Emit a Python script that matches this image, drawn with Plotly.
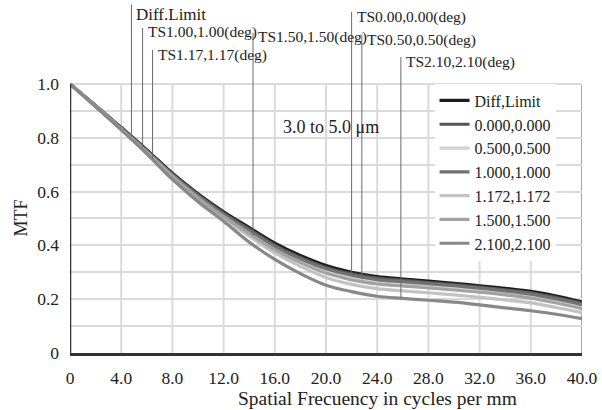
import numpy as np
import plotly.graph_objects as go

freq = [0, 2, 4, 6, 8, 10, 12, 14, 16, 18, 20, 22, 24, 26, 28, 30, 32, 34, 36, 38, 40]

diff_limit = [1.000, 0.920, 0.838, 0.755, 0.668, 0.592, 0.525, 0.466, 0.408, 0.362, 0.325, 0.300, 0.284, 0.275, 0.267, 0.259, 0.250, 0.240, 0.229, 0.212, 0.190]
f_000 = [1.000, 0.919, 0.836, 0.752, 0.665, 0.588, 0.520, 0.460, 0.401, 0.355, 0.318, 0.294, 0.278, 0.270, 0.262, 0.254, 0.245, 0.235, 0.224, 0.206, 0.185]
f_050 = [1.000, 0.918, 0.833, 0.748, 0.660, 0.581, 0.511, 0.450, 0.390, 0.343, 0.305, 0.280, 0.265, 0.257, 0.250, 0.242, 0.234, 0.224, 0.212, 0.194, 0.173]
f_100 = [1.000, 0.918, 0.834, 0.750, 0.662, 0.584, 0.515, 0.455, 0.396, 0.350, 0.313, 0.289, 0.273, 0.265, 0.258, 0.250, 0.241, 0.231, 0.219, 0.201, 0.180]
f_1172 = [1.000, 0.916, 0.831, 0.744, 0.653, 0.572, 0.500, 0.434, 0.372, 0.322, 0.281, 0.255, 0.239, 0.231, 0.224, 0.216, 0.207, 0.197, 0.186, 0.169, 0.150]
f_150 = [1.000, 0.917, 0.832, 0.746, 0.657, 0.577, 0.507, 0.444, 0.384, 0.336, 0.297, 0.272, 0.257, 0.249, 0.242, 0.234, 0.226, 0.216, 0.204, 0.186, 0.165]
f_210 = [1.000, 0.915, 0.829, 0.740, 0.645, 0.562, 0.490, 0.412, 0.348, 0.295, 0.252, 0.228, 0.211, 0.203, 0.196, 0.189, 0.179, 0.168, 0.157, 0.144, 0.128]

series_names = ["Diff,Limit", "0.000,0.000", "0.500,0.500", "1.000,1.000", "1.172,1.172", "1.500,1.500", "2.100,2.100"]
series_values = [diff_limit, f_000, f_050, f_100, f_1172, f_150, f_210]
series_colors = ["#1c1c1c", "#555555", "#d2d2d2", "#727272", "#c2c2c2", "#a2a2a2", "#888888"]

x_ticks = [0, 4, 8, 12, 16, 20, 24, 28, 32, 36, 40]
x_ticktext = ["0", "4.0", "8.0", "12.0", "16.0", "20.0", "24.0", "28.0", "32.0", "36.0", "40.0"]
y_ticks = [0, 0.1, 0.2, 0.3, 0.4, 0.5, 0.6, 0.7, 0.8, 0.9, 1.0]
y_ticktext = ["0", "", "0.2", "", "0.4", "", "0.6", "", "0.8", "", "1.0"]

# field markers: label, x position, which series, top of line / label height (MTF units)
marker_labels = ["Diff.Limit", "TS1.00,1.00(deg)", "TS1.17,1.17(deg)", "TS1.50,1.50(deg)",
                 "TS0.00,0.00(deg)", "TS0.50,0.50(deg)", "TS2.10,2.10(deg)"]
marker_x = [4.8, 5.67, 6.45, 14.3, 22.0, 22.8, 25.85]
marker_series = [0, 3, 4, 5, 1, 2, 6]
marker_top = [1.294, 1.208, 1.126, 1.190, 1.268, 1.182, 1.100]
marker_text_y = [1.258, 1.193, 1.107, 1.175, 1.249, 1.163, 1.081]
marker_font = [17, 15.5, 15.5, 15.5, 15.5, 15.5, 15.5]

FONT = "Liberation Serif, Times New Roman, serif"

fig = go.Figure()

for name, vals, col in zip(series_names, series_values, series_colors):
    fig.add_trace(go.Scatter(x=freq, y=vals, name=name, mode="lines",
                             line=dict(color=col, width=3.2, shape="spline"),
                             hoverinfo="skip"))

for lab, mx, si, top in zip(marker_labels, marker_x, marker_series, marker_top):
    ybot = float(np.interp(mx, freq, series_values[si]))
    fig.add_trace(go.Scatter(x=[mx, mx], y=[ybot, top], mode="lines",
                             line=dict(color="#6a6a6a", width=1),
                             showlegend=False, hoverinfo="skip"))

shapes = []
for xv in x_ticks[1:-1]:
    shapes.append(dict(type="line", xref="x", yref="y", x0=xv, x1=xv, y0=0, y1=1,
                       line=dict(color="#dadada", width=2), layer="below"))
# frame
shapes.append(dict(type="line", xref="x", yref="y", x0=0, x1=40, y0=1, y1=1,
                   line=dict(color="#a8a8a8", width=2), layer="below"))
shapes.append(dict(type="line", xref="x", yref="y", x0=40, x1=40, y0=0, y1=1,
                   line=dict(color="#a8a8a8", width=2), layer="below"))
shapes.append(dict(type="line", xref="x", yref="y", x0=0, x1=0, y0=0, y1=1,
                   line=dict(color="#333333", width=2.5), layer="above"))

annotations = []
for lab, mx, ty, fs in zip(marker_labels, marker_x, marker_text_y, marker_font):
    annotations.append(dict(x=mx, y=ty, xref="x", yref="y", text=lab, showarrow=False,
                            xanchor="left", yanchor="middle", xshift=3,
                            font=dict(family=FONT, size=fs, color="#222")))
annotations.append(dict(x=20.4, y=0.84, xref="x", yref="y", text="3.0 to 5.0 μm",
                        showarrow=False, font=dict(family=FONT, size=18, color="#222")))
annotations.append(dict(x=0, y=0.5, xref="paper", yref="y", text="MTF", textangle=-90,
                        showarrow=False, xshift=-61, font=dict(family=FONT, size=18, color="#222")))
annotations.append(dict(x=24.0, y=0, xref="x", yref="paper", text="Spatial Frecuency in cycles per mm",
                        showarrow=False, yshift=-45, yanchor="middle",
                        font=dict(family=FONT, size=19.5, color="#222")))

fig.update_layout(
    width=602, height=410,
    margin=dict(l=70, r=18, t=4, b=57),
    paper_bgcolor="white", plot_bgcolor="white",
    font=dict(family=FONT, size=16, color="#222"),
    xaxis=dict(range=[0, 40], tickvals=x_ticks, ticktext=x_ticktext, showgrid=False,
               zeroline=False, showline=True, linecolor="#333333", linewidth=2.5,
               ticks="", ticklabelstandoff=7, tickfont=dict(family=FONT, size=17.5, color="#222")),
    yaxis=dict(range=[0, 1.297], tickvals=y_ticks, ticktext=y_ticktext, showgrid=True,
               gridcolor="#dadada", gridwidth=2, zeroline=False, showline=False,
               ticks="", ticklabelstandoff=10, tickfont=dict(family=FONT, size=17.5, color="#222")),
    legend=dict(x=0.712, y=0.772, xanchor="left", yanchor="top", bgcolor="white",
                font=dict(family=FONT, size=16, color="#222"), tracegroupgap=0,
                itemwidth=30),
    shapes=shapes, annotations=annotations,
    showlegend=True,
)

fig.write_html("out.html")
